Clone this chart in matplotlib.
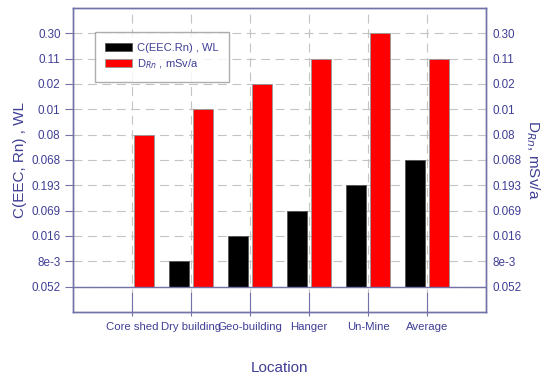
import matplotlib.pyplot as plt

# y axis is categorical-looking: labels printed at evenly spaced positions
y_tick_labels = ["0.052", "8e-3", "0.016", "0.069", "0.193", "0.068",
                 "0.08", "0.01", "0.02", "0.11", "0.30"]
locations = ["Core shed", "Dry building", "Geo-building", "Hanger", "Un-Mine", "Average"]
# bar heights in tick steps
c_eec = [0, 1, 2, 3, 4, 5]
d_rn = [6, 7, 8, 9, 10, 9]

text_color = "#3f3f95"
frame_color = "#7272a8"

plt.rcParams['font.family'] = ['Liberation Sans', 'DejaVu Sans']


def main():
    fig = plt.figure(figsize=(5.42, 3.74), dpi=100)
    ax = fig.add_axes([0.1347, 0.1658, 0.762, 0.813])

    x = list(range(len(locations)))
    w = 0.33
    ax.bar([i - 0.2 for i in x], c_eec, width=w, color="black", edgecolor="#555555",
           linewidth=0.6, label="C(EEC.Rn) , WL", zorder=3)
    ax.bar([i + 0.2 for i in x], d_rn, width=w, color="#ff0000", edgecolor="#999999",
           linewidth=0.6, label="D$_{Rn}$ , mSv/a", zorder=3)

    ax.set_xlim(-1, len(locations))
    ax.set_ylim(-1, 11)
    ax.set_yticks(range(len(y_tick_labels)))
    ax.set_yticklabels(y_tick_labels)
    ax.set_xticks(x)
    ax.set_xticklabels(locations)

    ax.grid(True, color="#c4c4c4", linestyle=(0, (8, 5)), linewidth=0.8, zorder=0)
    ax.axhline(0, color=frame_color, linewidth=1.0, zorder=4)
    # solid tick lines below the baseline, as in the original
    for i in x:
        ax.plot([i, i], [-1, -0.25], color=frame_color, linewidth=0.8, zorder=4,
                clip_on=False)

    ax2 = ax.twinx()
    ax2.set_ylim(ax.get_ylim())
    ax2.set_yticks(range(len(y_tick_labels)))
    ax2.set_yticklabels(y_tick_labels)

    for a in (ax, ax2):
        for s in a.spines.values():
            s.set_color(frame_color)
            s.set_linewidth(1.0)
        a.tick_params(colors=frame_color, labelcolor=text_color, labelsize=8.4,
                      length=6, width=0.8, pad=3)
    ax2.tick_params(length=0, pad=5)
    ax.tick_params(axis='x', labelsize=8.2, pad=4, length=3)

    ax.set_ylabel("C(EEC, Rn) , WL", color=text_color, fontsize=11)
    ax.yaxis.set_label_coords(-0.112, 0.5)
    ax2.set_ylabel("D$_{Rn}$, mSv/a", color=text_color, fontsize=11,
                   rotation=-90, va="center", ha="center")
    ax2.yaxis.set_label_coords(1.114, 0.5)
    ax.set_xlabel("Location", color=text_color, fontsize=11)
    ax.xaxis.set_label_coords(0.5, -0.16)

    leg = ax.legend(loc="upper left", bbox_to_anchor=(0.053, 0.921), fontsize=8,
                    frameon=True, fancybox=False, edgecolor="#999999",
                    handlelength=2.35, handleheight=0.75, handletextpad=0.45,
                    borderpad=0.95, labelspacing=0.45, borderaxespad=0)
    for t in leg.get_texts():
        t.set_color(text_color)
    leg.set_zorder(10)

    fig.savefig("out.png", dpi=100)


if __name__ == '__main__':
    main()
